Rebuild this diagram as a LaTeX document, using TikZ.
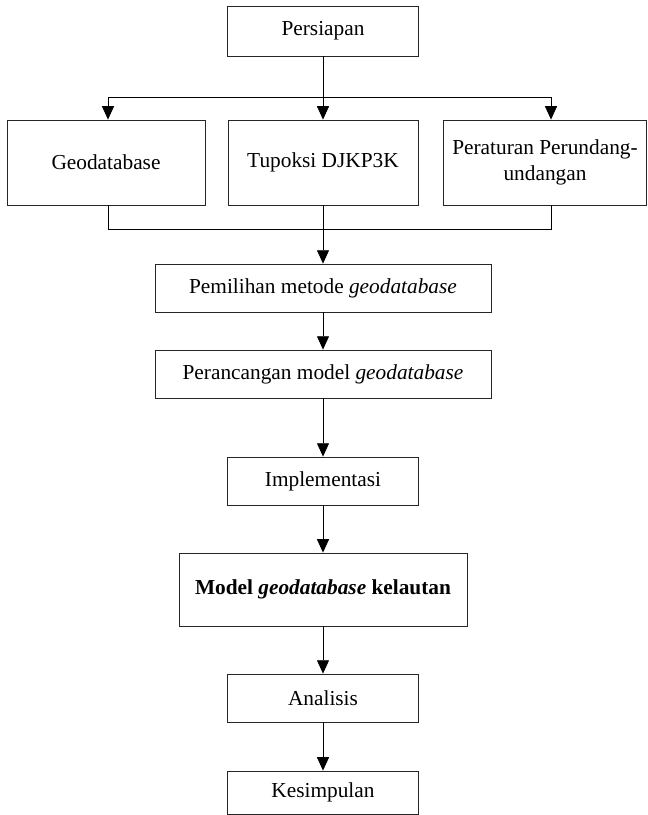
\documentclass[tikz,border=0pt]{standalone}
\usepackage{fontspec}
\setmainfont{Liberation Serif}
\usetikzlibrary{arrows.meta, positioning, calc}

\begin{document}
\begin{tikzpicture}[x=0.75pt, y=-0.75pt]
            \tikzstyle{block} = [rectangle, draw=black!85, line width=0.6pt, inner sep=2pt, align=center, font=\fontsize{16}{20}\selectfont]
            \tikzstyle{arrow} = [line width=0.6pt, -{Triangle[length=10pt,width=9pt]}]
            \tikzstyle{line} = [line width=0.6pt]

            \useasboundingbox (0,0) rectangle (647,815);

            \node[block, minimum width=143pt, minimum height=37.5pt] (persiapan) at (323,31) {Persiapan};
            \node[block, minimum width=148.5pt, minimum height=63.8pt] (geo) at (106,162.5) {Geodatabase};
            \node[block, minimum width=142.5pt, minimum height=63.8pt] (tupoksi) at (323,162.5) {Tupoksi DJKP3K};
            \node[block, minimum width=152pt, minimum height=63.8pt] (aturan) at (545,162.5) {Peraturan Perundang-\\undangan};
            \node[block, minimum width=252pt, minimum height=36pt] (pemilihan) at (323,288) {Pemilihan metode \textit{geodatabase}};
            \node[block, minimum width=252pt, minimum height=36pt] (perancangan) at (323,374) {Perancangan model \textit{geodatabase}};
            \node[block, minimum width=143pt, minimum height=36pt] (implementasi) at (323,481) {Implementasi};
            \node[block, minimum width=216pt, minimum height=54.8pt] (model) at (323,589.5) {\textbf{Model \textit{geodatabase} kelautan}};
            \node[block, minimum width=143pt, minimum height=36pt] (analisis) at (323,698) {Analisis};
            \node[block, minimum width=143pt, minimum height=32.3pt] (kesimpulan) at (323,792.5) {Kesimpulan};

            % cabang ke tiga kotak
            \coordinate (sL) at (108,97);
            \coordinate (sR) at (551,97);
            \draw[line] (sL) -- (sR);
            \draw[arrow] (persiapan) -- (tupoksi);
            \draw[arrow] (sL) -- (sL |- geo.north);
            \draw[arrow] (sR) -- (sR |- aturan.north);

            % gabungan ke pemilihan metode
            \coordinate (mL) at (108,229);
            \coordinate (mR) at (551,229);
            \draw[line] (mL |- geo.south) -- (mL) -- (mR) -- (mR |- aturan.south);
            \draw[arrow] (tupoksi) -- (pemilihan);

            \foreach \a/\b in {pemilihan/perancangan, perancangan/implementasi, implementasi/model, model/analisis, analisis/kesimpulan}
                \draw[arrow] (\a) -- (\b);
        \end{tikzpicture}
\end{document}
